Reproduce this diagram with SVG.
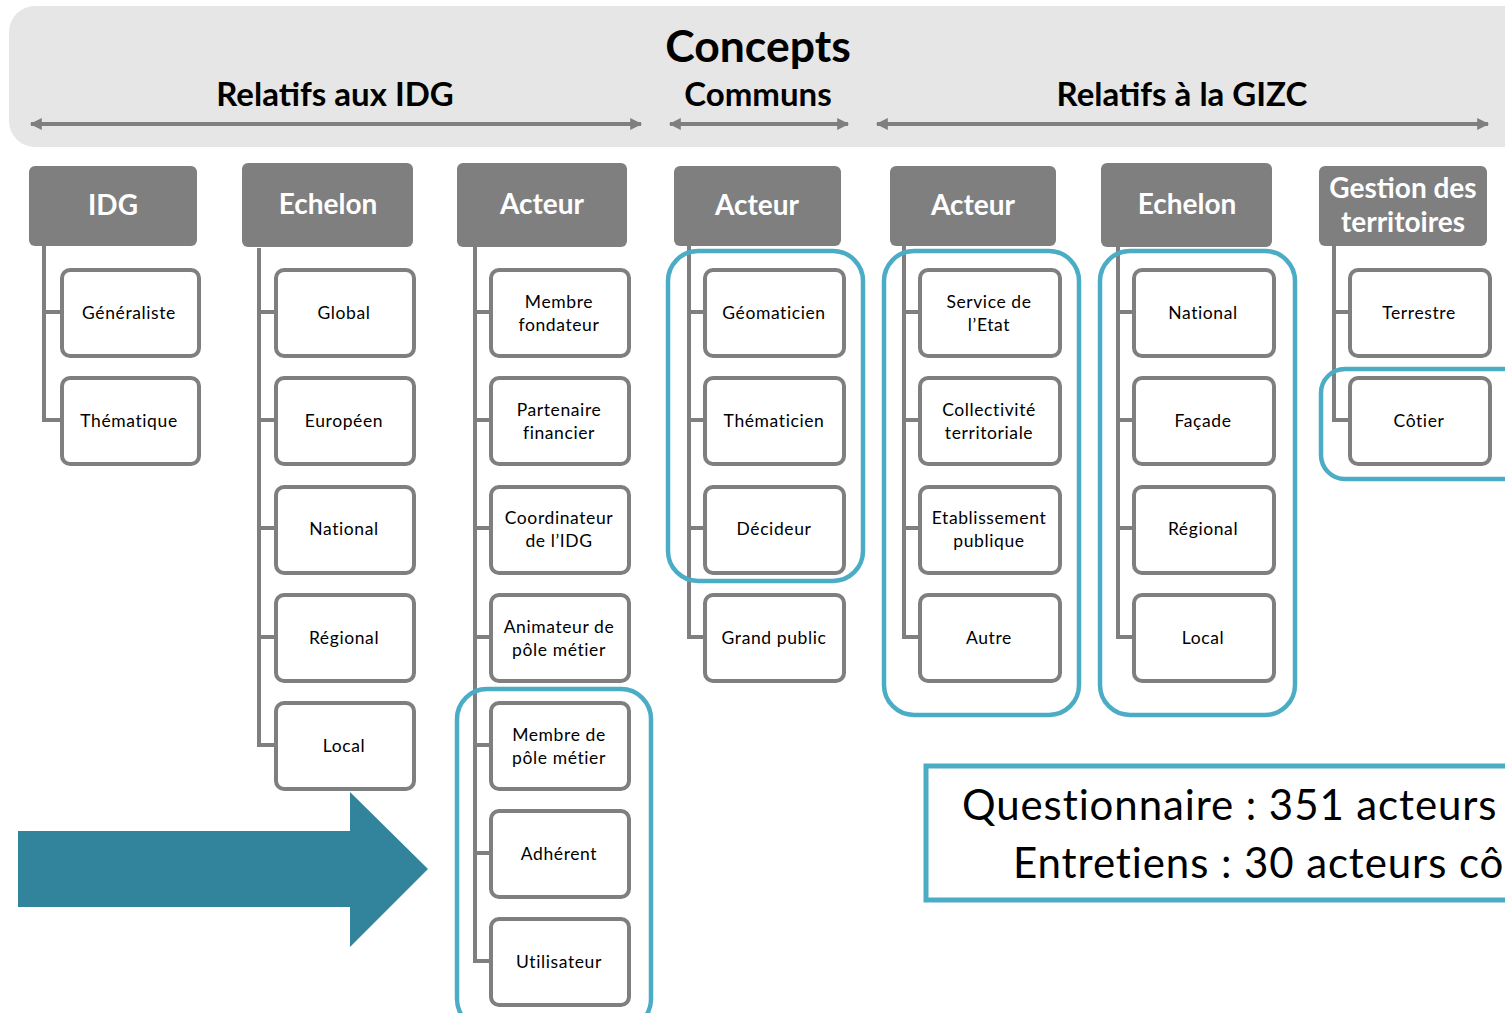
<svg xmlns="http://www.w3.org/2000/svg" width="1505" height="1013" viewBox="0 0 1505 1013">
<style>
.t{font-family:Lato,"Open Sans","Liberation Sans",sans-serif;fill:#000;text-anchor:middle}
.big{font-weight:bold;font-size:44.5px}
.sub{font-weight:bold;font-size:33px}
.hd{font-family:Lato,"Open Sans","Liberation Sans",sans-serif;fill:#fff;font-weight:bold;font-size:28px;text-anchor:middle}
.lb{font-size:17.5px;letter-spacing:0.6px}
.hbox{fill:#7f7f7f}
.cbox{fill:#fff;stroke:#7f7f7f;stroke-width:4}
.con{fill:none;stroke:#7f7f7f;stroke-width:4}
.hl{fill:none;stroke:#4bacc6;stroke-width:4.5}
.ar{stroke:#7f7f7f;stroke-width:4;fill:none}
.note{font-family:Lato,"Open Sans","Liberation Sans",sans-serif;font-size:42px;letter-spacing:0.9px;fill:#000}
</style>
<defs>
<marker id="ah" viewBox="0 0 10 10" refX="9" refY="5" markerWidth="3.5" markerHeight="3" orient="auto-start-reverse" markerUnits="strokeWidth">
<path d="M0,0 L10,5 L0,10 z" fill="#7f7f7f"/>
</marker>
</defs>
<g id="banner">
<rect x="9" y="6" width="1520" height="141" rx="26" fill="#e6e6e6"/>
<text class="t big" x="758" y="62">Concepts</text>
<text class="t sub" x="335" y="106">Relatifs aux IDG</text>
<text class="t sub" x="758" y="106">Communs</text>
<text class="t sub" x="1182" y="106">Relatifs à la GIZC</text>
<line class="ar" x1="31" y1="124" x2="641" y2="124" marker-start="url(#ah)" marker-end="url(#ah)"/>
<line class="ar" x1="670" y1="124" x2="848" y2="124" marker-start="url(#ah)" marker-end="url(#ah)"/>
<line class="ar" x1="877" y1="124" x2="1488" y2="124" marker-start="url(#ah)" marker-end="url(#ah)"/>
</g>
<g id="connectors">
<path class="con" d="M44,246 V420 H62 M44,312 H62"/>
<path class="con" d="M259,248 V745 H276 M259,312 H276 M259,420 H276 M259,528 H276 M259,637 H276"/>
<path class="con" d="M475,247 V961 H491 M475,312 H491 M475,420 H491 M475,528 H491 M475,637 H491 M475,745 H491 M475,853 H491"/>
<path class="con" d="M689,246 V637 H705 M689,312 H705 M689,420 H705 M689,528 H705"/>
<path class="con" d="M904,246 V637 H920 M904,312 H920 M904,420 H920 M904,528 H920"/>
<path class="con" d="M1118,247 V637 H1134 M1118,312 H1134 M1118,420 H1134 M1118,528 H1134"/>
<path class="con" d="M1334,246 V420 H1350 M1334,312 H1350"/>
</g>
<g id="col-idg">
<rect class="hbox" x="29" y="166" width="168" height="80" rx="6"/>
<text class="hd" x="113" y="215">IDG</text>
<rect class="cbox" x="62" y="270" width="137" height="86" rx="8"/>
<text class="t lb" x="129" y="319">Généraliste</text>
<rect class="cbox" x="62" y="378" width="137" height="86" rx="8"/>
<text class="t lb" x="129" y="427">Thématique</text>
</g>
<g id="col-echelon-idg">
<rect class="hbox" x="242" y="163" width="171" height="84" rx="6"/>
<text class="hd" x="328" y="214">Echelon</text>
<rect class="cbox" x="276" y="270" width="138" height="86" rx="8"/>
<text class="t lb" x="344" y="319">Global</text>
<rect class="cbox" x="276" y="378" width="138" height="86" rx="8"/>
<text class="t lb" x="344" y="427">Européen</text>
<rect class="cbox" x="276" y="487" width="138" height="86" rx="8"/>
<text class="t lb" x="344" y="535">National</text>
<rect class="cbox" x="276" y="595" width="138" height="86" rx="8"/>
<text class="t lb" x="344" y="644">Régional</text>
<rect class="cbox" x="276" y="703" width="138" height="86" rx="8"/>
<text class="t lb" x="344" y="752">Local</text>
</g>
<g id="col-acteur-idg">
<rect class="hbox" x="457" y="163" width="170" height="84" rx="6"/>
<text class="hd" x="542" y="214">Acteur</text>
<rect class="cbox" x="491" y="270" width="138" height="86" rx="8"/>
<text class="t lb" x="559" y="308">Membre</text>
<text class="t lb" x="559" y="331">fondateur</text>
<rect class="cbox" x="491" y="378" width="138" height="86" rx="8"/>
<text class="t lb" x="559" y="416">Partenaire</text>
<text class="t lb" x="559" y="439">financier</text>
<rect class="cbox" x="491" y="487" width="138" height="86" rx="8"/>
<text class="t lb" x="559" y="524">Coordinateur</text>
<text class="t lb" x="559" y="547">de l’IDG</text>
<rect class="cbox" x="491" y="595" width="138" height="86" rx="8"/>
<text class="t lb" x="559" y="633">Animateur de</text>
<text class="t lb" x="559" y="656">pôle métier</text>
<rect class="cbox" x="491" y="703" width="138" height="86" rx="8"/>
<text class="t lb" x="559" y="741">Membre de</text>
<text class="t lb" x="559" y="764">pôle métier</text>
<rect class="cbox" x="491" y="811" width="138" height="86" rx="8"/>
<text class="t lb" x="559" y="860">Adhérent</text>
<rect class="cbox" x="491" y="919" width="138" height="86" rx="8"/>
<text class="t lb" x="559" y="968">Utilisateur</text>
<rect class="hl" x="457" y="689" width="194" height="340" rx="30"/>
</g>
<g id="col-acteur-communs">
<rect class="hbox" x="674" y="166" width="167" height="80" rx="6"/>
<text class="hd" x="757" y="215">Acteur</text>
<rect class="cbox" x="705" y="270" width="139" height="86" rx="8"/>
<text class="t lb" x="774" y="319">Géomaticien</text>
<rect class="cbox" x="705" y="378" width="139" height="86" rx="8"/>
<text class="t lb" x="774" y="427">Thématicien</text>
<rect class="cbox" x="705" y="487" width="139" height="86" rx="8"/>
<text class="t lb" x="774" y="535">Décideur</text>
<rect class="cbox" x="705" y="595" width="139" height="86" rx="8"/>
<text class="t lb" x="774" y="644">Grand public</text>
<rect class="hl" x="668" y="251" width="195" height="330" rx="30"/>
</g>
<g id="col-acteur-gizc">
<rect class="hbox" x="890" y="166" width="166" height="80" rx="6"/>
<text class="hd" x="973" y="215">Acteur</text>
<rect class="cbox" x="920" y="270" width="140" height="86" rx="8"/>
<text class="t lb" x="989" y="308">Service de</text>
<text class="t lb" x="989" y="331">l’Etat</text>
<rect class="cbox" x="920" y="378" width="140" height="86" rx="8"/>
<text class="t lb" x="989" y="416">Collectivité</text>
<text class="t lb" x="989" y="439">territoriale</text>
<rect class="cbox" x="920" y="487" width="140" height="86" rx="8"/>
<text class="t lb" x="989" y="524">Etablissement</text>
<text class="t lb" x="989" y="547">publique</text>
<rect class="cbox" x="920" y="595" width="140" height="86" rx="8"/>
<text class="t lb" x="989" y="644">Autre</text>
<rect class="hl" x="884" y="251" width="195" height="464" rx="30"/>
</g>
<g id="col-echelon-gizc">
<rect class="hbox" x="1101" y="163" width="171" height="84" rx="6"/>
<text class="hd" x="1187" y="214">Echelon</text>
<rect class="cbox" x="1134" y="270" width="140" height="86" rx="8"/>
<text class="t lb" x="1203" y="319">National</text>
<rect class="cbox" x="1134" y="378" width="140" height="86" rx="8"/>
<text class="t lb" x="1203" y="427">Façade</text>
<rect class="cbox" x="1134" y="487" width="140" height="86" rx="8"/>
<text class="t lb" x="1203" y="535">Régional</text>
<rect class="cbox" x="1134" y="595" width="140" height="86" rx="8"/>
<text class="t lb" x="1203" y="644">Local</text>
<rect class="hl" x="1100" y="251" width="195" height="464" rx="30"/>
</g>
<g id="col-gestion">
<rect class="hbox" x="1319" y="166" width="168" height="80" rx="6"/>
<text class="hd" x="1403" y="198">Gestion des</text>
<text class="hd" x="1403" y="232">territoires</text>
<rect class="cbox" x="1350" y="270" width="140" height="86" rx="8"/>
<text class="t lb" x="1419" y="319">Terrestre</text>
<rect class="cbox" x="1350" y="378" width="140" height="86" rx="8"/>
<text class="t lb" x="1419" y="427">Côtier</text>
<rect class="hl" x="1321" y="369" width="220" height="110" rx="24"/>
</g>
<g id="big-arrow">
<polygon points="18,831 350,831 350,792 428,869 350,947 350,907 18,907" fill="#31849b"/>
</g>
<g id="note">
<rect x="926" y="766" width="620" height="134" fill="#fff" stroke="#4bacc6" stroke-width="5"/>
<text class="note" x="962" y="820">Questionnaire : 351 acteurs</text>
<text class="note" x="1013" y="878">Entretiens : 30 acteurs cô</text>
</g>
</svg>
